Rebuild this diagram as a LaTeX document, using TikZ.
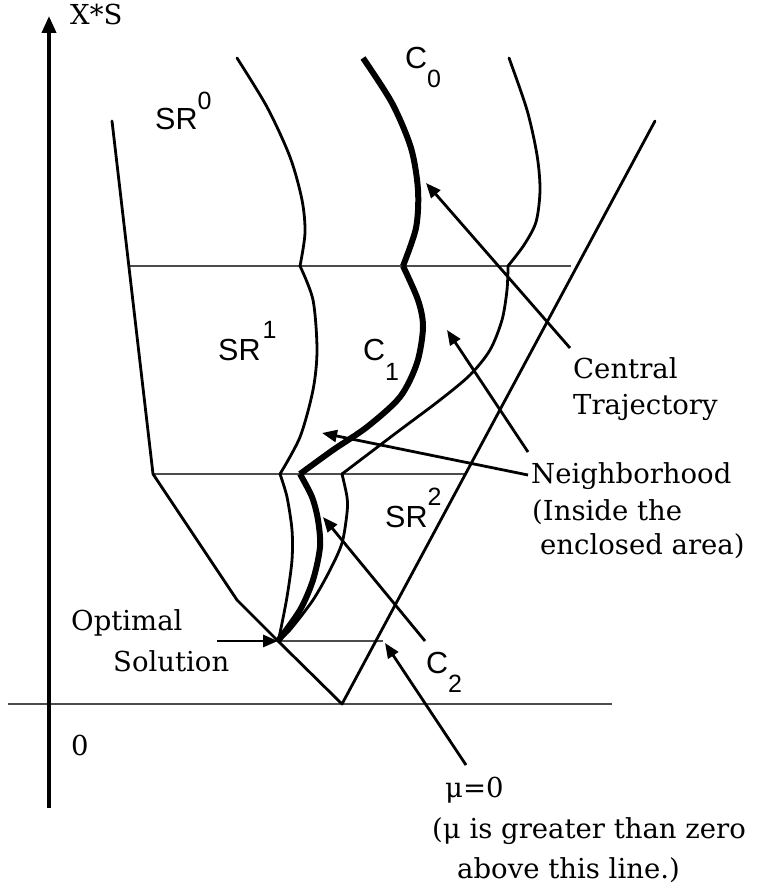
\documentclass[tikz,border=0pt]{standalone}
\usepackage{fontspec}
\setmainfont{DejaVu Serif}
\newfontfamily\hv{Liberation Sans}
\usetikzlibrary{arrows.meta}
\newcommand\supx[2]{\raisebox{#1pt}{\fontsize{25}{25}\selectfont #2}}
\begin{document}
\begin{tikzpicture}[x=1pt,y=-1pt,
  thinc/.style={line width=2.8pt, line join=round, line cap=round},
  thickc/.style={line width=6pt, line join=round},
  gridl/.style={line width=1.3pt, draw=black!70},
  axisl/.style={line width=3.8pt},
  arr/.style={line width=2.8pt, -{Triangle[length=15pt,width=12pt]}},
  serif/.style={inner sep=0pt, anchor=base west, font=\fontsize{27.5}{33}\selectfont},
  sans/.style={inner sep=0pt, anchor=base west, font=\hv\fontsize{30.5}{33}\selectfont}]
\useasboundingbox (0,0) rectangle (758,890);

% horizontal reference lines
\draw[gridl] (130,266) -- (571,266);
\draw[gridl] (153,474) -- (465,474);
\draw[gridl] (278,641) -- (383,641);
\draw[gridl] (8,704) -- (612,704);

% axis
\coordinate (axb) at (49,808);
\coordinate (axt) at (49,16);
\draw[axisl, -{Triangle[length=17pt,width=14pt]}] (axb) -- (axt);

% region boundary and V
\draw[thinc] (112,121) -- (153,474) -- (237,600) -- (278,641) -- (342,704) -- (655,121);

% left thin curve
\draw[thinc] plot[smooth] coordinates {(237,58) (267,107) (290,157) (302,200) (305,233) (300,266)};
\draw[thinc] plot[smooth] coordinates {(300,266) (313,300) (317,350) (313,390) (300,437) (280,474)};
\draw[thinc] plot[smooth] coordinates {(280,474) (287,497) (292,530) (292,560) (287,597) (280,633) (278,641)};

% central trajectory (thick)
\draw[thickc] plot[smooth] coordinates {(363,58) (392,103) (411,148) (418,190) (416,228) (403,266)};
\draw[thickc] plot[smooth] coordinates {(403,266) (418,300) (423,327) (417,363) (400,397) (367,427) (333,450) (300,474)};
\draw[thickc] plot[smooth] coordinates {(300,474) (312,497) (318,520) (320,547) (313,580) (300,610) (278,641)};

% right thin curve
\draw[thinc] plot[smooth] coordinates {(509,58) (527,110) (537,155) (540,190) (536,222) (524,245) (508,266)};
\draw[thinc] plot[smooth] coordinates {(508,266) (507,290) (502,320) (490,350) (470,375) (440,400) (400,430) (367,455) (342,474)};
\draw[thinc] plot[smooth] coordinates {(342,474) (347,497) (347,513) (342,543) (330,570) (313,600) (290,630) (278,641)};

% labels
\node[serif] (xs) at (70,25) {X*S};
\node[serif] (zero) at (71,755) {0};
\node[serif] (opt1) at (71,630) {Optimal};
\node[serif] (opt2) at (113,671) {Solution};
\node[serif] (ct1) at (573,378) {Central};
\node[serif] (ct2) at (573,414) {Trajectory};
\node[serif] (nb1) at (531,483) {Neighborhood};
\node[serif] (nb2) at (532,520) {(Inside the};
\node[serif] (nb3) at (540,554) {enclosed area)};
\node[serif] (mu1) at (445,797) {μ=0};
\node[serif] (mu2) at (432,838) {(μ is greater than zero};
\node[serif] (mu3) at (457,878) {above this line.)};

\node[sans] (sr0) at (155,130) {SR\supx{20}{0}};
\node[sans] (sr1) at (218,360) {SR\kern2pt\supx{22}{1}};
\node[sans] (sr2) at (385,527) {SR\supx{22}{2}};
\node[sans] (c0) at (405,69) {C\supx{-19}{0}};
\node[sans] (c1) at (363,360) {C\supx{-20}{1}};
\node[sans] (c2) at (426,673) {C\supx{-19}{2}};

% arrows
\coordinate (optS) at (217,641);
\coordinate (optE) at (278,641);
\coordinate (muS) at (466,765);
\coordinate (muE) at (385,643);
\coordinate (c2S) at (425,641);
\coordinate (c2E) at (323,517);
\coordinate (ctS) at (570,348);
\coordinate (ctE) at (426,183);
\coordinate (nbS) at (528,452);
\coordinate (nbE) at (447,330);
\coordinate (nb2S) at (528,475);
\coordinate (nb2E) at (322,433);
\draw[arr] (optS) -- (optE);
\draw[arr] (muS) -- (muE);
\draw[arr] (c2S) -- (c2E);
\draw[arr] (ctS) -- (ctE);
\draw[arr] (nbS) -- (nbE);
\draw[arr] (nb2S) -- (nb2E);
\end{tikzpicture}
\end{document}
